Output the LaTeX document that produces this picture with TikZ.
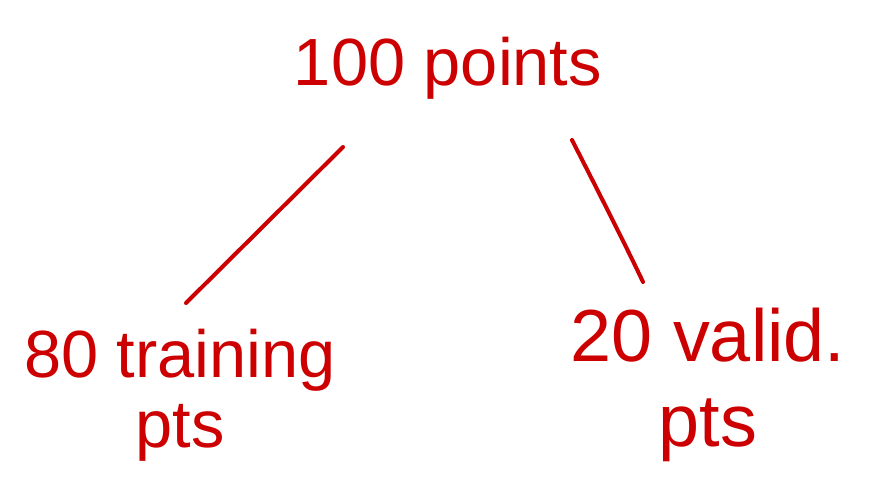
\documentclass[tikz,border=0pt]{standalone}
\usepackage{fontspec}
\setmainfont{Liberation Sans}
\definecolor{inkred}{HTML}{CC0000}

\begin{document}
\begin{tikzpicture}[x=0.02cm,y=-0.02cm,
  handtext/.style={text=inkred,inner sep=0pt,align=center,font=\fontsize{38}{40}\selectfont},
  handline/.style={draw=inkred,line width=2.3pt,line cap=round}]
\useasboundingbox (0,0) rectangle (883,485);
\node[handtext] (total) at (448,68) {100 points};
\node[handtext] (train) at (180,395) {80 training\\pts};
\node[handtext,font=\fontsize{42}{44}\selectfont] (valid) at (708,385) {20 valid.\\[4pt]pts};
\draw[handline] ([shift={(-105,79)}]total.center) -- ([shift={(6,-92)}]train.center);
\draw[handline] ([shift={(124,72)}]total.center)
  .. controls ([shift={(-112,-198)}]valid.center) and ([shift={(-80,-135)}]valid.center)
  .. ([shift={(-65,-103)}]valid.center);
\end{tikzpicture}
\end{document}
